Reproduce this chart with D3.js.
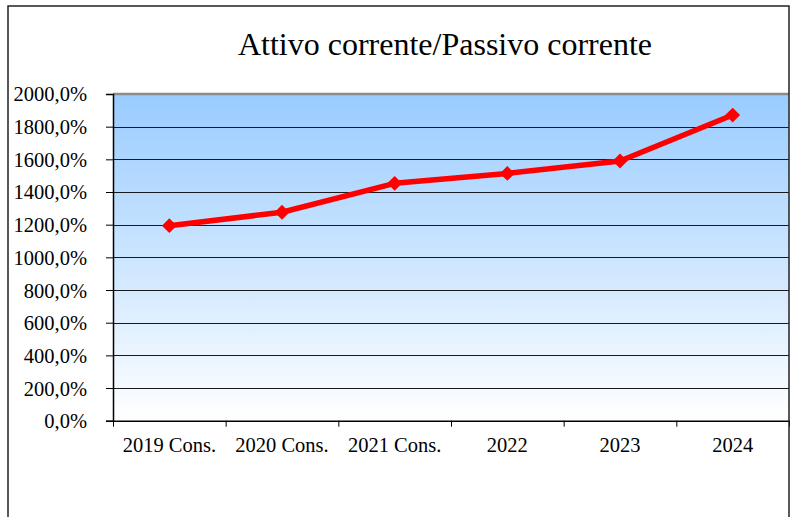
<!doctype html>
<html lang="it">
<head>
<meta charset="utf-8">
<script src="https://cdnjs.cloudflare.com/ajax/libs/d3/7.8.5/d3.min.js"></script>
<style>
  body { margin: 0; background: #fff; }
  .axis path, .axis line { stroke: #000; }
</style>
</head>
<body>
<script>
// Chart data
const categories = ["2019 Cons.", "2020 Cons.", "2021 Cons.", "2022", "2023", "2024"];
const ratioValues = [1194, 1276, 1453, 1514, 1590, 1871];
const yTicks = [0, 200, 400, 600, 800, 1000, 1200, 1400, 1600, 1800, 2000];
const chartTitle = "Attivo corrente/Passivo corrente";

const serif = "'Liberation Serif', 'Times New Roman', 'DejaVu Serif', serif";
const w = 800, h = 517;
const plot = { left: 113, right: 789, top: 94, bottom: 420.7 };

const svg = d3.select("body").append("svg")
  .attr("width", w)
  .attr("height", h);

// background gradient
const defs = svg.append("defs");
const grad = defs.append("linearGradient")
  .attr("id", "bg")
  .attr("x1", 0).attr("y1", 0).attr("x2", 0).attr("y2", 1);
grad.append("stop").attr("offset", "0%").attr("stop-color", "#99ccff");
grad.append("stop").attr("offset", "100%").attr("stop-color", "#ffffff");

// scales
const x = d3.scaleBand()
  .domain(categories)
  .range([plot.left, plot.right])
  .padding(0);
const xEdge = d3.scaleLinear()
  .domain([0, categories.length])
  .range([plot.left, plot.right]);
const y = d3.scaleLinear()
  .domain([0, 2000])
  .range([plot.bottom, plot.top]);

// plot area
svg.append("rect")
  .attr("x", plot.left)
  .attr("y", plot.top)
  .attr("width", plot.right - plot.left)
  .attr("height", plot.bottom - plot.top)
  .attr("fill", "url(#bg)");

// gridlines
svg.append("g")
  .selectAll("line")
  .data(yTicks.filter(d => d > 0 && d < 2000))
  .enter()
  .append("line")
  .attr("x1", plot.left)
  .attr("x2", plot.right)
  .attr("y1", d => Math.round(y(d)) + 0.5)
  .attr("y2", d => Math.round(y(d)) + 0.5)
  .attr("stroke", "#1a1a1a")
  .attr("stroke-width", 1);

// top border of plot (gray)
svg.append("line")
  .attr("x1", plot.left).attr("x2", plot.right)
  .attr("y1", y(2000)).attr("y2", y(2000))
  .attr("stroke", "#8c8c8c")
  .attr("stroke-width", 2.5);

// y axis
const yAxis = d3.axisLeft(y)
  .tickValues(yTicks)
  .tickSize(7)
  .tickPadding(19)
  .tickFormat(d => d3.format(".1f")(d).replace(".", ",") + "%");

svg.append("g")
  .attr("class", "axis")
  .attr("transform", "translate(" + plot.left + ",0)")
  .call(yAxis)
  .attr("font-family", serif)
  .attr("font-size", 20.5)
  .call(g => g.selectAll("text").attr("fill", "#000").attr("dy", "0.34em"))
  .call(g => g.select(".domain").attr("stroke-width", 1.5));

// x axis: boundary ticks
svg.append("g")
  .attr("class", "axis")
  .attr("transform", "translate(0," + plot.bottom + ")")
  .call(d3.axisBottom(xEdge).ticks(categories.length).tickSize(6).tickSizeOuter(0).tickFormat(""))
  .call(g => g.select(".domain").attr("stroke-width", 1.5));

// x axis labels
svg.append("g")
  .attr("class", "axis")
  .attr("transform", "translate(0," + plot.bottom + ")")
  .call(d3.axisBottom(x).tickSize(0).tickPadding(17))
  .attr("font-family", serif)
  .attr("font-size", 20.5)
  .call(g => g.select(".domain").remove())
  .call(g => g.selectAll("text").attr("fill", "#000"));

// line
const line = d3.line()
  .x((d, i) => x(categories[i]) + x.bandwidth() / 2)
  .y(d => y(d));

svg.append("path")
  .datum(ratioValues)
  .attr("d", line)
  .attr("fill", "none")
  .attr("stroke", "#ff0000")
  .attr("stroke-width", 5.5)
  .attr("stroke-linejoin", "round");

// diamond markers
const sq = d3.symbol().type(d3.symbolSquare).size(110);
svg.append("g")
  .selectAll("path")
  .data(ratioValues)
  .enter()
  .append("path")
  .attr("d", sq)
  .attr("transform", (d, i) => "translate(" + (x(categories[i]) + x.bandwidth() / 2) + "," + y(d) + ") rotate(45)")
  .attr("fill", "#ff0000");

// title
svg.append("text")
  .attr("x", 445)
  .attr("y", 54.5)
  .attr("text-anchor", "middle")
  .attr("font-family", serif)
  .attr("font-size", 32)
  .attr("fill", "#000")
  .text(chartTitle);

// outer chart border
svg.append("rect")
  .attr("x", 8)
  .attr("y", 6)
  .attr("width", 781)
  .attr("height", 540)
  .attr("fill", "none")
  .attr("stroke", "#222")
  .attr("stroke-width", 1.5);
</script>
</body>
</html>
